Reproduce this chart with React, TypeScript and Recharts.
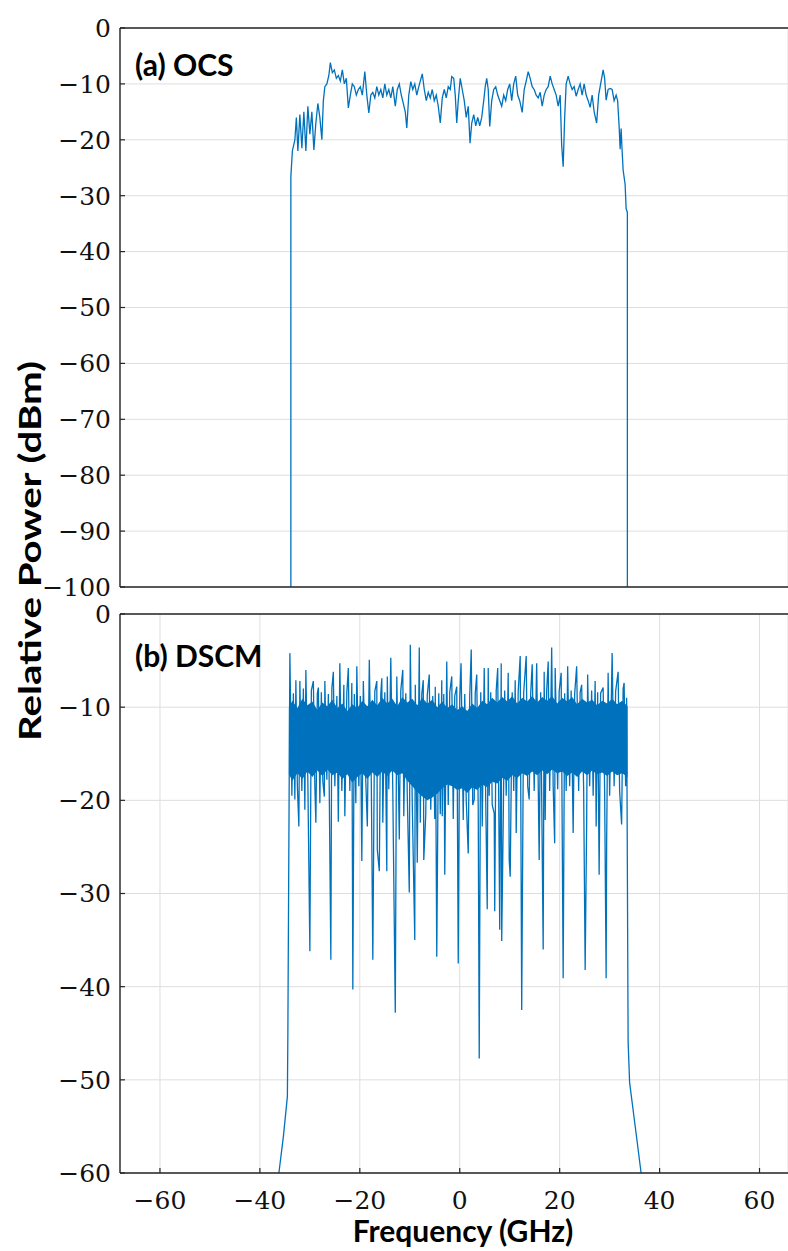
import { Area, CartesianGrid, ComposedChart, Line, XAxis, YAxis } from 'recharts'

// frequency axis (GHz)
const freqTicks = [-60, -40, -20, 0, 20, 40, 60]
const freqDomain = [-68, 65.7]

// (a) OCS spectrum
const ocsTicks = [-100, -90, -80, -70, -60, -50, -40, -30, -20, -10, 0]
const ocsFreq = [
  -33.8, -33.8, -33.5, -33.0, -32.7, -32.4, -32.0, -31.6, -31.2, -30.8, -30.4, -30.0, -29.6, -29.2, -28.8, -28.4,
  -28.0, -27.6, -27.3, -27.0, -26.6, -26.2, -25.9, -25.5, -25.1, -24.7, -24.3, -23.9, -23.5, -23.1, -22.7, -22.3,
  -21.9, -21.5, -21.1, -20.7, -20.3, -19.9, -19.5, -19.0, -18.6, -18.2, -17.8, -17.4, -17.0, -16.6, -16.2, -15.8,
  -15.4, -15.0, -14.6, -14.2, -13.8, -13.4, -12.9, -12.5, -12.1, -11.7, -11.3, -10.9, -10.6, -10.2, -9.8, -9.4,
  -9.0, -8.6, -8.2, -7.5, -7.1, -6.7, -6.3, -5.9, -5.5, -5.1, -4.7, -4.3, -3.9, -3.5, -3.1, -2.7,
  -2.3, -1.9, -1.6, -1.2, -0.9, -0.6, -0.3, 0.1, 0.5, 0.9, 1.3, 1.7, 2.06, 2.4, 2.8, 3.2,
  3.6, 4.0, 4.4, 4.8, 5.1, 5.4, 5.7, 6.0, 6.4, 6.8, 7.2, 7.6, 8.0, 8.4, 8.8, 9.2,
  9.6, 10.0, 10.4, 10.8, 11.2, 11.6, 12.0, 12.5, 12.9, 13.3, 13.7, 14.1, 14.5, 14.9, 15.3, 15.7,
  16.1, 16.5, 16.9, 17.3, 17.7, 18.1, 18.5, 18.9, 19.3, 19.7, 20.1, 20.4, 20.7, 21.0, 21.3, 21.7,
  22.1, 22.5, 22.9, 23.3, 23.7, 24.1, 24.5, 24.9, 25.3, 25.7, 26.1, 26.5, 26.9, 27.4, 27.8, 28.2,
  28.7, 29.0, 29.3, 29.7, 30.1, 30.5, 30.9, 31.3, 31.6, 31.9, 32.1, 32.3, 32.5, 32.7, 33.1, 33.3,
  33.55, 33.55,
]
const ocsPower = [
  -100, -26.5, -22, -20, -16, -22, -15.5, -21.5, -15, -22, -14, -19, -15, -21.8, -17, -13.5,
  -16, -20, -13, -10.5, -10, -8.5, -6.2, -8, -7.5, -9, -8.5, -9.5, -7.5, -10, -9, -14.3,
  -12, -10, -10.5, -12, -11, -10.5, -12, -7.8, -12, -15.2, -12, -11.5, -12.5, -10.5, -12, -11,
  -12.5, -10, -12, -11, -12.5, -10.5, -14, -11, -10, -12, -13.5, -15, -17.9, -12, -9.6, -11,
  -10, -12, -10.5, -8.2, -11, -13, -11.5, -12.5, -11, -13, -12, -14, -17, -12.5, -11, -12.5,
  -10.5, -11, -8.7, -9, -12, -17, -13, -9, -11, -13, -16, -14, -20.6, -17, -15.5, -17.5,
  -16, -17.5, -16, -13, -10.5, -9, -11, -17.6, -13, -11, -10.5, -12, -13, -14, -12, -13,
  -11, -10, -13, -10, -8.6, -12, -13, -15.1, -11, -9.5, -7.8, -9, -10.5, -11, -12, -12.5,
  -11.5, -14, -12, -11, -10.5, -8.6, -10, -11, -12, -14, -12, -21, -24.8, -16, -10, -8.6,
  -10, -11, -10.5, -12.2, -11, -10, -12, -10, -12, -13, -14.2, -12, -15, -17, -12, -10,
  -7.5, -9, -12.9, -11, -10.8, -11, -13, -12, -13, -17.6, -21.7, -18, -22, -25.4, -28, -32.3,
  -33, -100,
]

// (b) DSCM spectrum
const dscmTicks = [-60, -50, -40, -30, -20, -10, 0]
const skirtLeftFreq = [-36.2, -35.3, -34.5, -34.4]
const skirtLeftPower = [-60, -56.1, -51.8, -45]
const spikeFreq = [
  -34.0, -33.6, -33.3, -33.0, -32.8, -32.5, -32.2, -32.0, -31.6, -31.3, -31.0, -30.8, -30.4, -30.0, -29.7, -29.3,
  -29.0, -28.8, -28.5, -28.3, -28.0, -27.7, -27.4, -27.1, -27.0, -26.6, -26.3, -25.8, -25.6, -25.3, -25.0, -24.6,
  -24.3, -24.0, -23.6, -23.2, -23.0, -22.6, -22.3, -22.0, -21.6, -21.4, -21.1, -20.8, -20.6, -20.2, -19.9, -19.6,
  -19.3, -18.8, -18.5, -18.1, -17.7, -17.4, -17.0, -16.6, -16.5, -16.1, -15.8, -15.6, -15.4, -15.0, -14.6, -14.5,
  -14.2, -13.8, -13.4, -12.9, -12.6, -12.1, -11.8, -11.4, -11.2, -10.8, -10.5, -10.1, -9.9, -9.5, -9.0, -8.9,
  -8.5, -8.1, -7.9, -7.6, -7.3, -7.2, -6.8, -6.5, -6.1, -5.8, -5.4, -5.0, -4.9, -4.6, -4.2, -3.9,
  -3.6, -3.5, -3.2, -3.0, -2.6, -2.3, -2.0, -1.6, -1.3, -1.0, -0.6, -0.3, 0.0, 0.26, 0.7, 1.0,
  1.3, 1.7, 2.0, 2.3, 2.6, 2.9, 3.1, 3.4, 3.7, 3.9, 4.2, 4.5, 4.9, 5.2, 5.5, 5.7,
  5.9, 6.2, 6.5, 6.9, 7.0, 7.3, 7.6, 8.0, 8.3, 8.4, 8.7, 9.0, 9.3, 9.7, 9.9, 10.1,
  10.5, 10.8, 11.1, 11.3, 11.7, 12.1, 12.4, 12.8, 13.3, 13.6, 13.9, 14.2, 14.5, 14.9, 15.4, 15.9,
  16.2, 16.7, 16.9, 17.1, 17.4, 17.7, 18.0, 18.4, 18.7, 19.0, 19.1, 19.6, 19.9, 20.3, 20.7, 21.0,
  21.3, 21.6, 22.0, 22.3, 22.7, 23.0, 23.4, 23.8, 24.1, 24.4, 24.8, 25.1, 25.4, 25.6, 26.0, 26.4,
  26.7, 27.1, 27.3, 27.6, 27.9, 28.2, 28.7, 29.0, 29.3, 29.4, 29.7, 30.0, 30.5, 30.9, 31.2, 31.7,
  32.0, 32.4, 32.7, 32.9, 33.2, 33.4,
]
const spikePower = [
  -4.2, -19.5, -8.5, -19.9, -7.1, -18.5, -22.8, -7.2, -19.0, -8.0, -21.0, -6.0, -18.0, -36.2, -8.2, -7.2,
  -18.5, -22.4, -8.5, -7.9, -20.3, -8.4, -18.0, -19.6, -7.2, -17.8, -8.6, -37.1, -8.0, -6.2, -18.5, -8.8,
  -22.3, -5.3, -19.0, -7.6, -21.7, -8.4, -5.8, -19.0, -7.4, -40.3, -8.6, -20.3, -5.6, -18.5, -8.8, -26.5,
  -7.2, -18.0, -22.8, -4.9, -18.2, -37.1, -8.3, -7.2, -25.3, -27.6, -8.5, -6.9, -22.4, -8.4, -27.6, -6.7,
  -18.8, -4.7, -19.0, -42.8, -6.7, -24.2, -8.2, -6.0, -21.7, -8.5, -19.5, -29.9, -3.3, -20.5, -35.0, -7.6,
  -26.7, -3.6, -22.4, -8.6, -7.1, -26.4, -21.5, -8.7, -6.5, -21.0, -8.8, -22.0, -7.8, -36.8, -8.5, -21.5,
  -7.1, -21.7, -8.6, -28.0, -5.1, -20.5, -8.4, -6.7, -22.0, -8.8, -7.8, -37.5, -9.0, -5.3, -22.1, -8.6,
  -20.0, -25.7, -8.8, -3.8, -20.5, -19.9, -8.5, -6.5, -21.0, -47.7, -8.4, -22.8, -5.8, -20.0, -31.7, -5.8,
  -19.5, -8.4, -20.5, -21.4, -31.9, -8.2, -5.8, -33.9, -5.3, -35.1, -22.4, -8.2, -19.5, -6.3, -26.4, -28.2,
  -8.4, -19.0, -7.1, -23.5, -8.3, -4.5, -42.5, -8.4, -4.5, -18.5, -19.9, -8.5, -5.4, -19.0, -5.3, -26.4,
  -8.4, -36.0, -6.2, -22.1, -8.2, -5.1, -19.0, -3.6, -18.5, -24.6, -5.8, -18.8, -8.3, -6.3, -39.1, -8.5,
  -19.0, -5.6, -18.5, -8.2, -23.5, -8.6, -5.6, -19.0, -8.4, -7.6, -18.8, -38.2, -22.4, -6.5, -18.5, -8.2,
  -19.5, -7.2, -22.8, -8.4, -28.0, -8.5, -7.9, -19.0, -39.1, -24.6, -6.3, -19.5, -4.2, -18.5, -8.3, -6.2,
  -19.0, -22.6, -8.0, -7.4, -18.5, -9.0,
]
const skirtRightFreq = [33.7, 34.0, 35.0, 36.3]
const skirtRightPower = [-45.9, -50.3, -54.5, -60]

// dense core of the DSCM trace (ragged envelope)
const bandFreq = [
  -34.2, -33.5, -32.5, -31.5, -30.5, -29.5, -28.5, -27.5, -26.5, -25.5, -24.5, -23.5, -22.5, -21.5, -20.5, -19.5,
  -18.5, -17.5, -16.5, -15.5, -14.5, -13.5, -12.5, -11.5, -10.5, -9.5, -8.5, -7.5, -6.5, -5.5, -4.5, -3.5,
  -2.5, -1.5, -0.5, 0.5, 1.5, 2.5, 3.5, 4.5, 5.5, 6.5, 7.5, 8.5, 9.5, 10.5, 11.5, 12.5,
  13.5, 14.5, 15.5, 16.5, 17.5, 18.5, 19.5, 20.5, 21.5, 22.5, 23.5, 24.5, 25.5, 26.5, 27.5, 28.5,
  29.5, 30.5, 31.5, 32.5, 33.6,
]
const bandHigh = [
  -10.0, -9.3, -10.1, -9.1, -9.8, -9.4, -10.3, -9.5, -9.9, -9.2, -10.1, -9.6, -10.4, -9.7, -10.1, -9.3,
  -9.9, -9.2, -9.8, -9.0, -9.6, -9.1, -9.9, -8.9, -9.5, -9.1, -9.8, -9.0, -9.6, -9.2, -10.0, -9.4,
  -10.1, -9.7, -10.3, -9.9, -10.4, -9.6, -10.1, -9.3, -9.7, -9.0, -9.5, -8.9, -9.4, -8.8, -9.6, -9.0,
  -9.4, -8.8, -9.5, -8.9, -9.3, -8.8, -9.6, -9.0, -9.4, -8.9, -9.7, -9.1, -9.5, -9.2, -9.8, -9.3,
  -9.6, -9.1, -9.7, -9.3, -9.9,
]
const bandLow = [
  -17.2, -17.9, -17.1, -17.7, -16.9, -17.5, -16.8, -17.4, -16.7, -17.3, -17.0, -17.7, -17.2, -18.1, -17.5, -17.1,
  -17.7, -17.0, -17.5, -16.9, -17.4, -16.8, -17.3, -17.1, -17.9, -18.5, -19.1, -19.6, -20.0, -19.7, -19.3, -18.7,
  -18.3, -18.5, -18.9, -18.7, -19.2, -18.6, -18.9, -18.3, -18.6, -18.0, -18.2, -17.6, -17.9, -17.3, -17.6, -17.1,
  -17.4, -16.9, -17.3, -16.8, -17.2, -16.7, -17.1, -16.9, -17.4, -17.0, -17.5, -16.9, -17.3, -16.8, -17.2, -17.0,
  -17.4, -16.9, -17.3, -17.1, -17.5,
]

const ocsData = ocsFreq.map((f, i) => ({ f, p: ocsPower[i] }))
const dscmData = [
  ...skirtLeftFreq.map((f, i) => ({ f, p: skirtLeftPower[i] })),
  ...spikeFreq.map((f, i) => ({ f, p: spikePower[i] })),
  ...skirtRightFreq.map((f, i) => ({ f, p: skirtRightPower[i] })),
]
const bandData = bandFreq.map((f, i) => ({ f, range: [bandLow[i], bandHigh[i]] }))

const BLUE = '#0072BD'
const AXIS = '#262626'
const GRID = '#dedede'
const tickFont = { fontFamily: 'DejaVu Serif', fontSize: 25, fill: '#111' }
const fmt = (v: number) => (v < 0 ? '\u2212' + Math.abs(v) : String(v))

function Panel({ yTicks, yDomain, height, margin, showXLabels, children }: any) {
  return (
    <ComposedChart width={788} height={height} margin={margin}>
      <CartesianGrid stroke={GRID} strokeWidth={1} />
      <XAxis
        dataKey="f"
        type="number"
        domain={freqDomain}
        ticks={freqTicks}
        interval={0}
        allowDataOverflow
        height={showXLabels ? 60 : 1}
        tick={showXLabels ? tickFont : false}
        tickFormatter={fmt}
        tickSize={-5}
        tickMargin={23}
        axisLine={{ stroke: AXIS, strokeWidth: 1.4 }}
        tickLine={{ stroke: AXIS, strokeWidth: 1.2 }}
      />
      <XAxis
        xAxisId="top"
        orientation="top"
        dataKey="f"
        type="number"
        domain={freqDomain}
        ticks={freqTicks}
        interval={0}
        allowDataOverflow
        height={1}
        tick={false}
        tickSize={-5}
        axisLine={{ stroke: AXIS, strokeWidth: 1.4 }}
        tickLine={{ stroke: AXIS, strokeWidth: 1.2 }}
      />
      <YAxis
        type="number"
        domain={yDomain}
        ticks={yTicks}
        interval={0}
        allowDataOverflow
        width={120}
        tick={tickFont}
        tickFormatter={fmt}
        tickSize={-5}
        tickMargin={14}
        axisLine={{ stroke: AXIS, strokeWidth: 1.4 }}
        tickLine={{ stroke: AXIS, strokeWidth: 1.2 }}
      />
      {children}
    </ComposedChart>
  )
}

export default function App() {
  const labelFont = { fontFamily: 'Lato', fontWeight: 700, fill: '#000' }
  return (
    <div style={{ position: 'absolute', left: 0, top: 0, width: 788, height: 1251, background: '#fff' }}>
      <div style={{ position: 'absolute', left: 0, top: 600 }}>
        <Panel yTicks={dscmTicks} yDomain={[-60, 0]} height={651} margin={{ top: 13, right: 0, bottom: 18, left: 0 }} showXLabels>
          <Area data={bandData} dataKey="range" type="linear" stroke="none" fill={BLUE} fillOpacity={1} isAnimationActive={false} />
          <Line data={dscmData} dataKey="p" type="linear" stroke={BLUE} strokeWidth={1.3} dot={false} isAnimationActive={false} />
        </Panel>
      </div>
      <div style={{ position: 'absolute', left: 0, top: 0 }}>
        <Panel yTicks={ocsTicks} yDomain={[-100, 0]} height={606} margin={{ top: 27, right: 0, bottom: 18, left: 0 }} showXLabels={false}>
          <Line data={ocsData} dataKey="p" type="linear" stroke={BLUE} strokeWidth={1.3} dot={false} isAnimationActive={false} />
        </Panel>
      </div>
      <svg width={788} height={1251} style={{ position: 'absolute', left: 0, top: 0, pointerEvents: 'none' }}>
        <text x={135} y={76} fontSize={30} {...labelFont}>(a) OCS</text>
        <text x={135} y={667} fontSize={30} {...labelFont}>(b) DSCM</text>
        <text x={463} y={1242} fontSize={30} textAnchor="middle" {...labelFont}>Frequency (GHz)</text>
        <text
          x={41}
          y={551}
          fontSize={30}
          textAnchor="middle"
          textLength={380}
          lengthAdjust="spacingAndGlyphs"
          transform="rotate(-90 41 551)"
          {...labelFont}
        >
          Relative Power (dBm)
        </text>
      </svg>
    </div>
  )
}
